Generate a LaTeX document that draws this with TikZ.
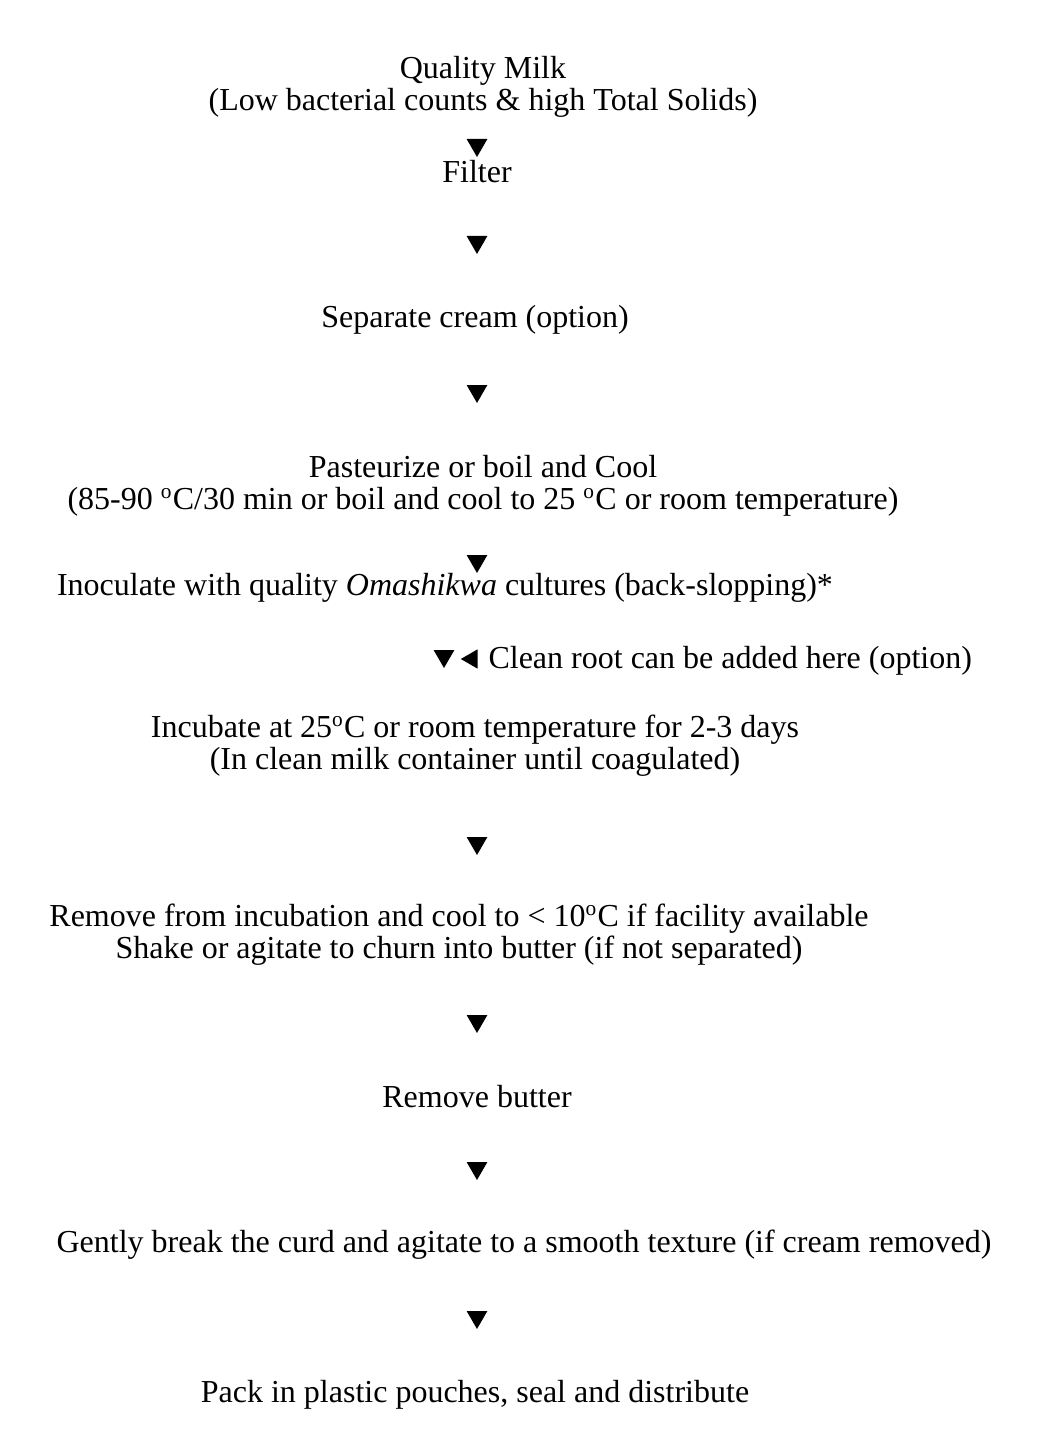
\documentclass[tikz,border=0pt]{standalone}
\usepackage{fontspec}
\setmainfont{Liberation Serif}
\usepackage{tikz}
\usetikzlibrary{positioning,shapes.geometric}

\tikzset{
  step text/.style={inner sep=0pt, align=center, font=\fontsize{12pt}{12pt}\selectfont},
  downtri/.style={regular polygon, regular polygon sides=3, shape border rotate=180,
    fill=black, inner sep=0pt, minimum size=9pt},
  lefttri/.style={regular polygon, regular polygon sides=3, shape border rotate=90,
    fill=black, inner sep=0pt, minimum size=8.4pt}
}
\newcommand{\dgr}{\textsuperscript{o}}

\begin{document}
\begin{tikzpicture}[x=0.375pt,y=-0.375pt]
        % page frame
        \useasboundingbox (0,0) rectangle (1048,1437);

        % Raw milk
        \node[step text] (milk) at (483,87) {Quality Milk\\(Low bacterial counts \& high Total Solids)};
        \node[downtri] (a1) at (477,145) {};
        \node[step text] (filter) at (477,172) {Filter};
        \node[downtri] (a2) at (477,242) {};
        \node[step text] (cream) at (475,320) {Separate cream (option)};
        \node[downtri] (a3) at (477,391) {};

        % Heat treatment
        \node[step text] (heat) at (483,486) {Pasteurize or boil and Cool\\(85-90 \dgr C/30 min or boil and cool to 25 \dgr C or room temperature)};
        \node[downtri] (a4) at (477,561) {};
        \node[step text] (inoc) at (445,588) {Inoculate with quality \textit{Omashikwa} cultures (back-slopping)*};

        % Root added
        \node[downtri] (a5) at (444,656) {};
        \node[lefttri] (b5) at (472,659) {};
        \node[step text, anchor=west] (root) at (488,661) {Clean root can be added here (option)};

        % Fermentation
        \node[step text] (incub) at (475,746) {Incubate at 25\dgr C or room temperature for 2-3 days\\(In clean milk container until coagulated)};
        \node[downtri] (a6) at (477,843) {};
        \node[step text] (churn) at (459,935) {Remove from incubation and cool to \textless{} 10\dgr C if facility available\\Shake or agitate to churn into butter (if not separated)};
        \node[downtri] (a7) at (477,1021) {};
        \node[step text] (butter) at (477,1097) {Remove butter};
        \node[downtri] (a8) at (477,1168) {};
        \node[step text] (curd) at (524,1245) {Gently break the curd and agitate to a smooth texture (if cream removed)};
        \node[downtri] (a9) at (477,1317) {};

        % Packing
        \node[step text] (pack) at (475,1395) {Pack in plastic pouches, seal and distribute};

    \end{tikzpicture}
\end{document}
